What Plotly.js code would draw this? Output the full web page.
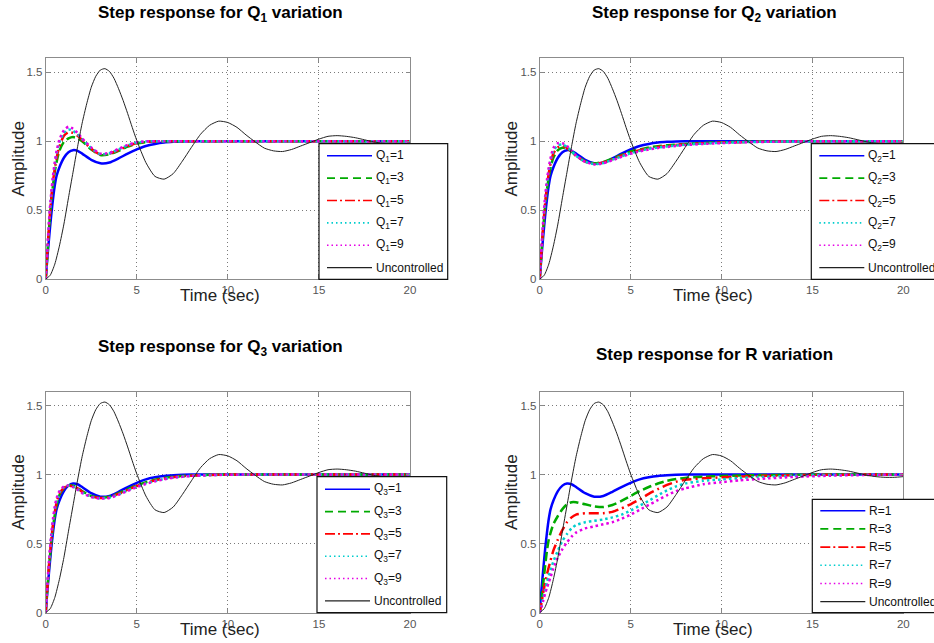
<!DOCTYPE html>
<html><head><meta charset="utf-8">
<script src="https://cdn.plot.ly/plotly-3.0.1.min.js"></script>
<style>html,body{margin:0;padding:0;background:#fff}#chart{width:934px;height:643px}</style>
</head><body><div id="chart"></div>
<script>
// ---------- data ----------
const tU = [0,0.25,0.5,0.75,1,1.25,1.5,1.75,2,2.25,2.5,2.75,3,3.25,3.5,3.75,4,4.25,4.5,4.75,5,
            5.5,6,6.5,7,7.5,8,8.5,9,9.5,10,10.5,11,11.5,12,12.5,13,13.5,14,14.5,15,15.5,16,16.5,17,17.5,18,18.5,19,19.5,20];
const uncontrolled = [0,0.03,0.11,0.24,0.40,0.59,0.775,0.96,1.13,1.27,1.39,1.47,1.515,1.525,1.505,1.455,1.38,1.295,1.2,1.1,1.005,
            0.845,0.745,0.725,0.765,0.855,0.955,1.05,1.115,1.145,1.135,1.1,1.045,0.995,0.95,0.93,0.925,0.94,0.965,0.99,1.015,1.035,1.04,1.035,1.025,1.01,0.995,0.985,0.98,0.98,0.985];

const tCtrl = [0,0.1,0.2,0.3,0.4,0.5,0.6,0.75,1,1.25,1.5,1.75,2,2.5,3,3.5,4,4.5,5,5.5,6,6.5,7,7.5,8,9,10,11,12,14,16,18,20];

// baseline (Q=1 / R=1), same in all four panels
const base  = [0,0.17,0.32,0.46,0.58,0.68,0.75,0.81,0.88,0.92,0.935,0.93,0.91,0.865,0.84,0.845,0.875,0.91,0.94,0.965,0.98,0.99,0.995,0.998,1,1,1,1,1,1,1,1,1];

// Q1 variation
const q1_3 = [0,0.2,0.4,0.56,0.68,0.78,0.85,0.93,0.995,1.02,1.03,1.02,1.0,0.94,0.9,0.905,0.93,0.96,0.982,0.993,0.998,1,1,1,1,1,1,1,1,1,1,1,1];
const q1_5 = [0,0.22,0.42,0.58,0.71,0.8,0.88,0.96,1.04,1.065,1.06,1.04,1.01,0.945,0.903,0.91,0.935,0.965,0.987,0.997,1,1,1,1,1,1,1,1,1,1,1,1,1];
const q1_7 = [0,0.23,0.44,0.6,0.73,0.83,0.91,0.99,1.06,1.085,1.075,1.05,1.015,0.95,0.906,0.912,0.94,0.97,0.99,0.998,1,1,1,1,1,1,1,1,1,1,1,1,1];
const q1_9 = [0,0.24,0.46,0.62,0.75,0.85,0.93,1.01,1.08,1.105,1.09,1.06,1.02,0.955,0.91,0.915,0.945,0.973,0.992,0.999,1,1,1,1,1,1,1,1,1,1,1,1,1];

// Q2 variation
const q2_3 = [0,0.2,0.38,0.53,0.65,0.74,0.81,0.88,0.935,0.952,0.948,0.925,0.895,0.855,0.84,0.85,0.875,0.9,0.925,0.94,0.955,0.963,0.97,0.975,0.98,0.987,0.992,0.995,0.997,0.999,1,1,1];
const q2_5 = [0,0.21,0.4,0.55,0.68,0.77,0.84,0.91,0.955,0.965,0.952,0.925,0.893,0.852,0.836,0.845,0.87,0.895,0.918,0.935,0.95,0.958,0.966,0.972,0.977,0.985,0.99,0.993,0.996,0.999,1,1,1];
const q2_7 = [0,0.22,0.42,0.57,0.7,0.79,0.86,0.93,0.97,0.975,0.958,0.928,0.895,0.851,0.834,0.842,0.866,0.89,0.912,0.93,0.945,0.954,0.962,0.968,0.974,0.983,0.988,0.992,0.995,0.998,1,1,1];
const q2_9 = [0,0.23,0.44,0.6,0.72,0.81,0.88,0.95,0.985,0.985,0.965,0.932,0.897,0.85,0.832,0.84,0.862,0.886,0.908,0.926,0.94,0.95,0.958,0.965,0.971,0.98,0.986,0.99,0.994,0.998,1,1,1];

// Q3 variation
const q3_3 = [0,0.19,0.36,0.5,0.62,0.71,0.78,0.85,0.9,0.92,0.92,0.905,0.88,0.845,0.832,0.84,0.865,0.895,0.922,0.945,0.962,0.975,0.984,0.99,0.994,0.998,1,1,1,1,1,1,1];
const q3_5 = [0,0.2,0.38,0.52,0.64,0.73,0.8,0.86,0.905,0.92,0.915,0.9,0.875,0.842,0.83,0.837,0.86,0.89,0.917,0.94,0.958,0.971,0.981,0.987,0.992,0.997,1,1,1,1,1,1,1];
const q3_7 = [0,0.21,0.39,0.54,0.66,0.75,0.81,0.87,0.91,0.92,0.912,0.895,0.87,0.84,0.828,0.834,0.857,0.886,0.913,0.936,0.954,0.968,0.979,0.986,0.991,0.996,0.999,1,1,1,1,1,1];
const q3_9 = [0,0.22,0.41,0.56,0.68,0.77,0.83,0.88,0.915,0.92,0.91,0.89,0.866,0.838,0.826,0.831,0.853,0.882,0.909,0.932,0.951,0.965,0.977,0.984,0.99,0.996,0.999,1,1,1,1,1,1];

// R variation
const r_3 = [0,0.1,0.22,0.34,0.45,0.53,0.58,0.64,0.7,0.75,0.785,0.8,0.8,0.785,0.77,0.765,0.78,0.81,0.845,0.88,0.91,0.935,0.955,0.968,0.976,0.984,0.99,0.993,0.996,0.999,1,1,1];
const r_5 = [0,0.07,0.15,0.22,0.28,0.33,0.38,0.45,0.53,0.6,0.655,0.69,0.71,0.72,0.72,0.72,0.73,0.755,0.785,0.82,0.86,0.895,0.925,0.948,0.962,0.973,0.98,0.986,0.99,0.996,0.999,1,1];
const r_7 = [0,0.05,0.11,0.17,0.22,0.27,0.31,0.37,0.45,0.52,0.57,0.61,0.635,0.655,0.665,0.675,0.69,0.71,0.74,0.775,0.81,0.85,0.885,0.915,0.935,0.955,0.965,0.975,0.982,0.992,0.997,0.999,1];
const r_9 = [0,0.04,0.09,0.14,0.18,0.22,0.26,0.32,0.4,0.46,0.51,0.55,0.58,0.61,0.625,0.64,0.655,0.68,0.71,0.745,0.78,0.815,0.85,0.88,0.9,0.93,0.945,0.958,0.968,0.983,0.992,0.997,1];

const xTicks = [0,5,10,15,20];
const yTicks = [0,0.5,1,1.5];

const namesQ1 = ['Q<sub>1</sub>=1','Q<sub>1</sub>=3','Q<sub>1</sub>=5','Q<sub>1</sub>=7','Q<sub>1</sub>=9','Uncontrolled'];
const namesQ2 = ['Q<sub>2</sub>=1','Q<sub>2</sub>=3','Q<sub>2</sub>=5','Q<sub>2</sub>=7','Q<sub>2</sub>=9','Uncontrolled'];
const namesQ3 = ['Q<sub>3</sub>=1','Q<sub>3</sub>=3','Q<sub>3</sub>=5','Q<sub>3</sub>=7','Q<sub>3</sub>=9','Uncontrolled'];
const namesR  = ['R=1','R=3','R=5','R=7','R=9','Uncontrolled'];

const titles = ['Step response for Q<sub>1</sub> variation','Step response for Q<sub>2</sub> variation',
                'Step response for Q<sub>3</sub> variation','Step response for R variation'];

// ---------- styles / layout ----------
const W = 934, H = 643;
const px = v => v / W, py = v => 1 - v / H;
const FONT = 'Liberation Sans, Arial, Helvetica, sans-serif';
const colors = ['#0000ff','rgb(0,170,0)','#ff0000','rgb(0,205,205)','rgb(230,0,230)','#222222'];
const dashes = ['solid','9px,4px','10px,4px,2px,4px','2.5px,3px','2.5px,3px','solid'];
const legDashes = ['solid','8px,5px','10px,3px,2px,3px','1.5px,3px','1.5px,3px','solid'];
const widths = [2.5,2.5,2.5,2.5,2.5,1];

const panels = [
  {series:[base,q1_3,q1_5,q1_7,q1_9], names:namesQ1, title:titles[0],
   box:{l:45.7,r:410,t:58.3,b:279.3}, leg:{l:319,t:143.7,r:447.7,b:279.3,first:12,step:22.4},
   tpos:[220.3,14], ypos:[18.3,158.3], xpos:[219.7,295.7]},
  {series:[base,q2_3,q2_5,q2_7,q2_9], names:namesQ2, title:titles[1],
   box:{l:539.7,r:903.3,t:58.3,b:279.3}, leg:{l:811.3,t:143.7,r:941,b:279.3,first:12,step:22.4},
   tpos:[714,14], ypos:[511.3,158.3], xpos:[713.3,295.7]},
  {series:[base,q3_3,q3_5,q3_7,q3_9], names:namesQ3, title:titles[2],
   box:{l:45.7,r:410,t:391.7,b:612.7}, leg:{l:317,t:476.7,r:446.7,b:612.7,first:12.6,step:22.3},
   tpos:[220.3,347.8], ypos:[18.3,491.7], xpos:[219.7,629.3]},
  {series:[base,r_3,r_5,r_7,r_9], names:namesR, title:titles[3],
   box:{l:539.7,r:903.3,t:391.7,b:612.7}, leg:{l:812.3,t:499.3,r:941,b:612.7,first:11.4,step:18.2},
   tpos:[714.2,354.2], ypos:[511.3,491.7], xpos:[713.3,629.3]}
];

const traces = [], shapes = [], annotations = [];
const layout = {
  width: W, height: H, margin:{l:0,r:0,t:0,b:0, autoexpand:false},
  paper_bgcolor:'#fff', plot_bgcolor:'#fff', showlegend:false,
  font:{family:FONT}
};

panels.forEach((p, i) => {
  const n = i + 1, sx = n === 1 ? '' : String(n);
  const xa = 'x' + sx, ya = 'y' + sx;
  const common = {
    ticks:'inside', ticklen:4, tickcolor:'#888', showline:true, linecolor:'#8c8c8c', linewidth:1,
    mirror:'ticks', showgrid:true, gridcolor:'#7a7a7a', griddash:'1px,3px', gridwidth:1,
    zeroline:false, fixedrange:true, tickfont:{family:FONT, size:11.5, color:'#555'}
  };
  layout['xaxis' + sx] = Object.assign({}, common, {
    domain:[px(p.box.l), px(p.box.r)], anchor: ya, range:[0,20], tickvals:xTicks });
  layout['yaxis' + sx] = Object.assign({}, common, {
    domain:[py(p.box.b), py(p.box.t)], anchor: xa, range:[0,1.6], tickvals:yTicks });

  p.series.forEach((s, k) => {
    traces.push({x:tCtrl, y:s, xaxis:xa, yaxis:ya, mode:'lines', name:p.names[k], hoverinfo:'skip',
      line:{color:colors[k], dash:dashes[k], width:widths[k], shape:'spline', smoothing:0.6}});
  });
  traces.push({x:tU, y:uncontrolled, xaxis:xa, yaxis:ya, mode:'lines', name:'Uncontrolled', hoverinfo:'skip',
    line:{color:colors[5], width:widths[5], shape:'spline', smoothing:0.6}});

  // legend box
  const L = p.leg;
  shapes.push({type:'rect', xref:'paper', yref:'paper', x0:px(L.l), x1:px(L.r), y0:py(L.b), y1:py(L.t),
    line:{color:'#111', width:1.2}, fillcolor:'#fff', layer:'above'});
  p.names.forEach((nm, k) => {
    const yy = L.t + L.first + k * L.step;
    shapes.push({type:'line', xref:'paper', yref:'paper', x0:px(L.l + 8), x1:px(L.l + 53), y0:py(yy), y1:py(yy),
      line:{color:colors[k], dash:legDashes[k], width:k === 5 ? 1.2 : 1.6}, layer:'above'});
    annotations.push({xref:'paper', yref:'paper', x:px(L.l + 56), y:py(yy), xanchor:'left', yanchor:'middle',
      text:nm, showarrow:false, borderpad:0, font:{family:FONT, size:12, color:'#111'}});
  });

  annotations.push({xref:'paper', yref:'paper', x:px(p.tpos[0]), y:py(p.tpos[1]), xanchor:'center', yanchor:'middle',
    text:p.title, showarrow:false, borderpad:0, font:{family:FONT, size:17, color:'#000', weight:'bold'}});
  annotations.push({xref:'paper', yref:'paper', x:px(p.ypos[0]), y:py(p.ypos[1]), xanchor:'center', yanchor:'middle',
    text:'Amplitude', textangle:-90, showarrow:false, borderpad:0, font:{family:FONT, size:17, color:'#222'}});
  annotations.push({xref:'paper', yref:'paper', x:px(p.xpos[0]), y:py(p.xpos[1]), xanchor:'center', yanchor:'middle',
    text:'Time (sec)', showarrow:false, borderpad:0, font:{family:FONT, size:17, color:'#222'}});
});

layout.shapes = shapes;
layout.annotations = annotations;

Plotly.newPlot('chart', traces, layout, {displayModeBar:false, staticPlot:true});
</script></body></html>
